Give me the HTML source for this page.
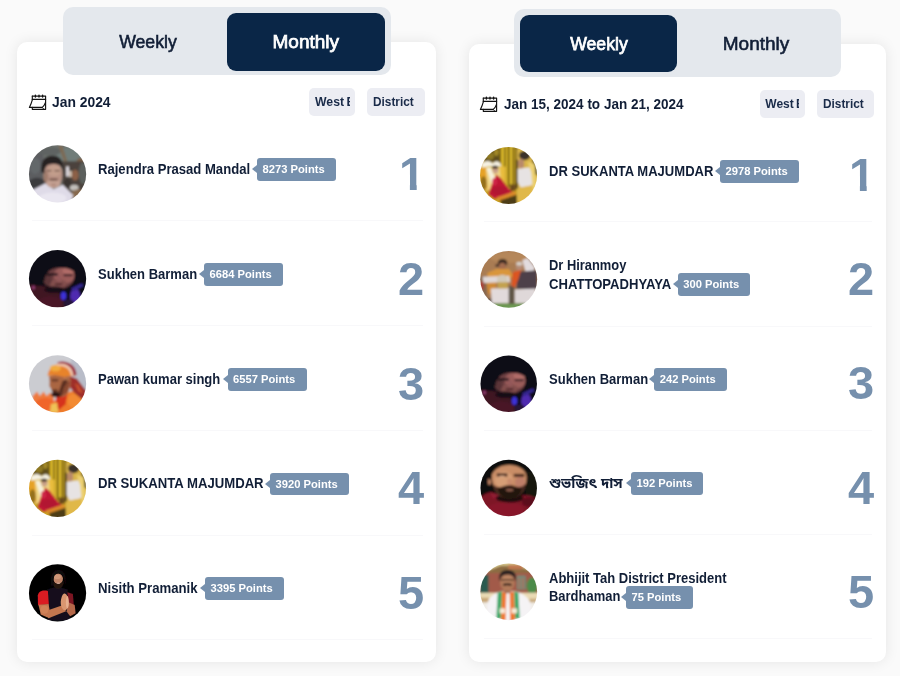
<!DOCTYPE html>
<html lang="en">
<head>
<meta charset="utf-8">
<title>Leaderboard</title>
<style>
*{box-sizing:border-box;margin:0;padding:0}
html,body{width:900px;height:676px;overflow:hidden}
body{background:#fafafa;font-family:"Liberation Sans",sans-serif;color:#111e36;position:relative}
.card{position:absolute;background:#fff;border-radius:10px;box-shadow:0 0 14px rgba(0,0,0,.085)}
.tabs{position:absolute;background:#e4e8ed;border-radius:10px}
.tab{position:absolute;border-radius:9px;font-weight:normal;-webkit-text-stroke:0.6px;font-size:19px;text-align:center;color:#111e36;white-space:nowrap}
.tab span{display:inline-block}
.tab.on{background:#0a2647;color:#fff;-webkit-text-stroke:0.75px}
.hdr{position:absolute;font-weight:bold;font-size:14px;line-height:16px;white-space:nowrap;color:#111e36;transform-origin:0 50%}
.ico{position:absolute;width:24px;height:22px}
.chip{position:absolute;background:#ecedf3;border-radius:5px;font-weight:bold;font-size:12px;color:#1a2b49;overflow:hidden;white-space:nowrap}
.chip .cw{display:block;overflow:hidden;height:100%}
.chip .cw span{display:inline-block;transform-origin:0 50%}
.av{position:absolute;width:58px;height:58px;border-radius:50%;overflow:hidden;background:#888}
.avs{position:absolute;width:62px;height:62px}
.avs svg{display:block}
.nm{position:absolute;font-weight:bold;font-size:14px;line-height:19px;white-space:nowrap;color:#111e36;transform-origin:0 50%}
.bdg{position:absolute;height:22.5px;background:#7690ad;border-radius:3px;color:#fff;font-weight:bold;font-size:11.2px;line-height:22.5px;white-space:nowrap;padding-left:5.5px}
.bdg:before{content:"";position:absolute;left:-5px;top:7px;border:4px solid transparent;border-left:0;border-right:5px solid #7690ad}
.bdg span{display:inline-block;transform-origin:0 50%}
.rk{position:absolute;font-weight:bold;font-size:47px;line-height:47px;color:#7690ad;text-align:center;width:40px}
.rk.one{clip-path:polygon(0 0,24.7px 0,24.7px 100%,17.9px 100%,17.9px 25px,0 25px)}
.sep{position:absolute;height:1px;background:#f8f8fa}
</style>
</head>
<body>
<!-- left panel -->
<div class="card" style="left:17px;top:42px;width:419px;height:620px"></div>
<div class="tabs" style="left:62.5px;top:7px;width:328.5px;height:68.3px"></div>
<div class="tab" style="left:68px;top:12.7px;width:159px;height:58px;line-height:58.4px"><span style="transform:scaleX(0.93)">Weekly</span></div>
<div class="tab on" style="left:226.5px;top:12.7px;width:158.5px;height:58px;line-height:58.4px"><span style="transform:scaleX(1.0)">Monthly</span></div>
<svg class="ico" style="left:26px;top:91px" viewBox="0 0 24 22" fill="none" stroke="#121212" stroke-width="1.15" stroke-linejoin="round" stroke-linecap="round"><path d="M6.3 5.1H19.6V18.3H6.3V16.4"/><path d="M6.3 5.1V8.6"/><path d="M6.3 8.4H19.6"/><path d="M6.4 8.6C5.6 11.6 4.6 14 3.4 16.4H16.2C17.6 15.4 18.8 13.6 19.5 11.4"/><path d="M16.2 16.4L18 18.3" stroke-width="0.9"/><path d="M9.4 4.1V6.1M13 4.1V6.1M16.6 4.1V6.1" stroke-width="1.4"/></svg>
<div class="hdr" style="left:52px;top:93.5px;transform:scaleX(0.99)">Jan 2024</div>
<div class="chip" style="left:309px;top:88px;width:46px;height:28px;line-height:28px;padding-left:5.8px;word-spacing:-1px"><span class="cw" style="width:35.1px"><span style="transform:scaleX(1.02)">West Bengal</span></span></div>
<div class="chip" style="left:367px;top:88px;width:58px;height:28px;line-height:28px;padding-left:6.1px;word-spacing:-1px"><span class="cw" style="width:45px"><span style="transform:scaleX(0.985)">District</span></span></div>
<div class="avs" style="left:27px;top:143px"><svg viewBox="0 0 676 676" width="62" height="62"><defs><clipPath id="cl1"><circle cx="333" cy="337" r="312"/></clipPath><filter id="fl1" x="-20%" y="-20%" width="140%" height="140%"><feGaussianBlur stdDeviation="10"/></filter></defs><g clip-path="url(#cl1)"><g filter="url(#fl1)"><rect x="-100" y="-100" width="900" height="900" fill="#6d716d" /><rect x="-50" y="100" width="230" height="440" fill="#5b5d60" /><ellipse cx="110" cy="440" rx="95" ry="60" fill="#3a3a3e" /><ellipse cx="90" cy="250" rx="60" ry="90" fill="#64676a" /><ellipse cx="470" cy="130" rx="150" ry="80" fill="#707d79" /><ellipse cx="250" cy="90" rx="120" ry="50" fill="#5f6462" /><polygon points="340,25 385,30 440,200 405,205" fill="#7d6a54" /><ellipse cx="590" cy="220" rx="55" ry="60" fill="#7a6048" /><rect x="385" y="200" width="320" height="380" fill="#4b423c" /><ellipse cx="525" cy="350" rx="38" ry="60" fill="#8c6146" /><rect x="428" y="255" width="28" height="110" fill="#ebe7ee" /><rect x="462" y="305" width="24" height="65" fill="#e6d6c6" /><ellipse cx="610" cy="330" rx="45" ry="120" fill="#5c615d" /><ellipse cx="515" cy="488" rx="48" ry="32" fill="#c2bfbb" /><ellipse cx="560" cy="565" rx="80" ry="60" fill="#86694d" /><ellipse cx="440" cy="440" rx="40" ry="50" fill="#3b3431" /><polygon points="30,530 200,440 290,505 390,455 505,570 450,720 80,720" fill="#dfdbe8" /><ellipse cx="280" cy="600" rx="150" ry="60" fill="#e9e6f0" /><ellipse cx="283" cy="345" rx="103" ry="140" fill="#b99385" /><ellipse cx="300" cy="300" rx="70" ry="60" fill="#c39e8c" /><ellipse cx="290" cy="440" rx="75" ry="50" fill="#c4a092" /><ellipse cx="205" cy="370" rx="25" ry="60" fill="#a07c6c" /><path d="M158 320 C140 195 195 140 280 140 C355 140 405 190 392 300 C378 240 335 228 275 230 C225 232 195 250 190 330 Z" fill="#262221" /><ellipse cx="275" cy="190" rx="90" ry="40" fill="#262221" /><rect x="208" y="295" width="60" height="14" fill="#6f554b" /><rect x="300" y="295" width="60" height="14" fill="#6f554b" /><ellipse cx="290" cy="398" rx="52" ry="13" fill="#7a5a50" /><ellipse cx="290" cy="455" rx="30" ry="8" fill="#a47c70" /></g></g></svg></div>
<div class="nm" style="left:98px;top:159.5px;transform:scaleX(0.935);">Rajendra Prasad Mandal</div>
<div class="bdg" style="left:257px;top:158.0px;width:79px"><span style="transform:scaleX(1.0)">8273 Points</span></div>
<div class="rk one" style="left:392px;top:149.8px">1</div>
<div class="sep" style="left:32px;top:220.0px;width:391px"></div>
<div class="avs" style="left:27px;top:248px"><svg viewBox="0 0 676 676" width="62" height="62"><defs><clipPath id="cl2"><circle cx="333" cy="335" r="312"/></clipPath><filter id="fl2" x="-20%" y="-20%" width="140%" height="140%"><feGaussianBlur stdDeviation="10"/></filter></defs><g clip-path="url(#cl2)"><g filter="url(#fl2)"><rect x="-100" y="-100" width="900" height="900" fill="#0e0a13" /><polygon points="20,400 200,420 330,470 400,560 420,720 -20,720" fill="#3f1424" /><ellipse cx="250" cy="600" rx="140" ry="70" fill="#4a1828" /><ellipse cx="70" cy="432" rx="18" ry="22" fill="#8c3a6c" /><ellipse cx="345" cy="325" rx="168" ry="120" fill="#6e4042" /><ellipse cx="405" cy="300" rx="115" ry="88" fill="#9a5c5a" /><ellipse cx="450" cy="250" rx="65" ry="38" fill="#b06c68" /><ellipse cx="340" cy="385" rx="95" ry="45" fill="#84504e" /><ellipse cx="225" cy="340" rx="45" ry="70" fill="#5c3438" /><rect x="215" y="275" width="120" height="26" fill="#24151c" /><rect x="400" y="285" width="95" height="22" fill="#321b24" /><ellipse cx="350" cy="330" rx="22" ry="40" fill="#94585a" /><ellipse cx="345" cy="395" rx="45" ry="10" fill="#4a2228" /><path d="M150 330 C150 180 260 150 380 160 C500 170 560 230 560 320 C520 240 450 210 350 215 C260 220 200 260 190 360 Z" fill="#100b12" /><ellipse cx="300" cy="455" rx="115" ry="35" fill="#190e16" /><ellipse cx="398" cy="522" rx="30" ry="45" fill="#3c33d8" /><ellipse cx="525" cy="525" rx="55" ry="85" fill="#4f2bb0" /><polygon points="480,440 600,385 615,415 505,475" fill="#352890" /><ellipse cx="455" cy="600" rx="60" ry="40" fill="#261238" /></g></g></svg></div>
<div class="nm" style="left:98px;top:264.5px;transform:scaleX(0.93);">Sukhen Barman</div>
<div class="bdg" style="left:204px;top:263.0px;width:79px"><span style="transform:scaleX(1.0)">6684 Points</span></div>
<div class="rk" style="left:391px;top:254.8px">2</div>
<div class="sep" style="left:32px;top:325.0px;width:391px"></div>
<div class="avs" style="left:27px;top:353px"><svg viewBox="0 0 676 676" width="62" height="62"><defs><clipPath id="cl3"><circle cx="333" cy="336" r="312"/></clipPath><filter id="fl3" x="-20%" y="-20%" width="140%" height="140%"><feGaussianBlur stdDeviation="9"/></filter></defs><g clip-path="url(#cl3)"><g filter="url(#fl3)"><rect x="-100" y="-100" width="900" height="900" fill="#cbccd1" /><rect x="480" y="-100" width="300" height="600" fill="#b8bcc8" /><polygon points="60,470 110,420 140,470 180,420 215,470 250,430 290,480 300,700 60,700" fill="#ee7a3d" /><ellipse cx="200" cy="560" rx="110" ry="70" fill="#f0652a" /><polygon points="300,520 470,420 640,400 660,700 280,700" fill="#ef7c2b" /><ellipse cx="520" cy="520" rx="80" ry="80" fill="#f28a30" /><polygon points="465,250 545,280 650,420 620,520 520,440 465,370" fill="#9e2e29" /><polygon points="520,330 560,350 610,440 560,420" fill="#c8502e" /><polygon points="320,470 440,440 420,560 350,620 310,560" fill="#d6301f" /><polygon points="260,560 330,540 340,650 250,650" fill="#efc257" /><path d="M240 250 C300 230 420 230 470 260 C490 330 470 420 420 470 C380 490 320 480 290 460 C270 430 270 400 255 380 C235 360 250 330 245 300 Z" fill="#aa6643" /><ellipse cx="420" cy="340" rx="40" ry="75" fill="#ba7550" /><ellipse cx="300" cy="300" rx="40" ry="30" fill="#a4603f" /><ellipse cx="322" cy="452" rx="60" ry="30" fill="#2c1812" /><polygon points="390,300 440,290 430,400 370,470 340,440" fill="#5a2f20" /><polygon points="270,400 330,395 335,420 280,425" fill="#5a3022" /><polygon points="400,380 450,300 470,320 440,430 380,470" fill="#8a4a30" /><rect x="270" y="290" width="70" height="16" fill="#4a2a1e" /><path d="M225 250 C230 170 300 110 400 110 C480 115 530 170 530 250 C470 245 430 260 400 262 C340 240 270 235 225 250 Z" fill="#e8832b" /><ellipse cx="310" cy="165" rx="60" ry="35" fill="#f2ab3e" /><path d="M330 100 C430 70 540 130 540 240 L500 245 C500 160 420 110 340 125 Z" fill="#9d2b3e" /><path d="M320 120 C420 100 500 150 505 245 L480 248 C470 170 410 130 325 140 Z" fill="#f0c8b0" /></g></g></svg></div>
<div class="nm" style="left:98px;top:369.5px;transform:scaleX(0.93);">Pawan kumar singh</div>
<div class="bdg" style="left:227.5px;top:368.0px;width:79.5px"><span style="transform:scaleX(1.0)">6557 Points</span></div>
<div class="rk" style="left:391px;top:359.8px">3</div>
<div class="sep" style="left:32px;top:430.0px;width:391px"></div>
<div class="avs" style="left:27px;top:458px"><svg viewBox="0 0 676 676" width="62" height="62"><defs><clipPath id="cl4"><circle cx="333" cy="331" r="311"/></clipPath><filter id="fl4" x="-20%" y="-20%" width="140%" height="140%"><feGaussianBlur stdDeviation="9"/></filter></defs><g clip-path="url(#cl4)"><g filter="url(#fl4)"><rect x="-100" y="-100" width="900" height="900" fill="#c9a324" /><rect x="225" y="-20" width="200" height="480" fill="#b8941c" /><rect x="232" y="-20" width="14" height="480" fill="#5e5010" /><rect x="258" y="-20" width="22" height="480" fill="#e6c432" /><rect x="286" y="-20" width="12" height="480" fill="#5a4c10" /><rect x="304" y="-20" width="18" height="480" fill="#d8b62a" /><rect x="328" y="-20" width="14" height="480" fill="#4e420e" /><rect x="348" y="-20" width="24" height="480" fill="#e2c030" /><rect x="378" y="-20" width="12" height="480" fill="#5a4c12" /><rect x="396" y="-20" width="14" height="480" fill="#c8a624" /><rect x="412" y="-20" width="18" height="480" fill="#4a3c10" /><polygon points="60,70 225,20 235,185 70,195" fill="#5e4e1a" /><ellipse cx="130" cy="120" rx="45" ry="40" fill="#8e7822" /><ellipse cx="200" cy="80" rx="25" ry="40" fill="#a48a26" /><path d="M40 205 C90 160 130 170 160 205 C190 160 230 170 250 215 L250 240 C200 222 120 228 40 252 Z" fill="#f6f2e4" /><polygon points="20,250 250,235 250,470 60,500" fill="#f0d684" /><polygon points="15,250 85,245 105,480 30,490" fill="#e6a226" /><polygon points="92,250 135,245 205,400 150,425" fill="#f6f0dc" /><ellipse cx="60" cy="420" rx="35" ry="80" fill="#94701a" /><polygon points="235,235 300,235 300,430 255,430" fill="#e9bd3e" /><ellipse cx="190" cy="272" rx="33" ry="40" fill="#c9a088" /><ellipse cx="186" cy="242" rx="36" ry="18" fill="#4a3a28" /><polygon points="200,322 250,362 330,470 385,520 300,568 180,590 112,540 150,430" fill="#c01936" /><ellipse cx="235" cy="500" rx="90" ry="50" fill="#b21431" /><ellipse cx="180" cy="400" rx="25" ry="40" fill="#d02848" /><polygon points="200,572 400,505 418,540 240,612" fill="#dc8a2c" /><polygon points="240,602 420,542 430,670 260,670" fill="#4e3e16" /><rect x="350" y="430" width="60" height="70" fill="#6a4a1a" /><rect x="425" y="40" width="240" height="620" fill="#d9b54a" /><rect x="410" y="160" width="25" height="320" fill="#54441a" /><polygon points="592,150 660,150 660,330 612,320" fill="#4a401e" /><ellipse cx="508" cy="115" rx="62" ry="50" fill="#3a3029" /><ellipse cx="470" cy="205" rx="34" ry="58" fill="#b98a6a" /><polygon points="432,262 560,242 598,300 588,440 470,470 432,400" fill="#e7e3e3" /><polygon points="540,185 618,205 640,480 600,520 580,300" fill="#ecd070" /><polygon points="430,470 590,440 620,620 430,640" fill="#e0b848" /></g></g></svg></div>
<div class="nm" style="left:98px;top:474.0px;transform:scaleX(0.938);">DR SUKANTA MAJUMDAR</div>
<div class="bdg" style="left:270px;top:472.5px;width:79px"><span style="transform:scaleX(1.0)">3920 Points</span></div>
<div class="rk" style="left:391px;top:464.3px">4</div>
<div class="sep" style="left:32px;top:534.5px;width:391px"></div>
<div class="avs" style="left:27px;top:562px"><svg viewBox="0 0 676 676" width="62" height="62"><defs><clipPath id="cl5"><circle cx="333" cy="337" r="312"/></clipPath><filter id="fl5" x="-20%" y="-20%" width="140%" height="140%"><feGaussianBlur stdDeviation="8"/></filter></defs><g clip-path="url(#cl5)"><g filter="url(#fl5)"><rect x="-100" y="-100" width="900" height="900" fill="#050406" /><polygon points="220,300 330,270 440,300 470,640 230,640" fill="#14111c" /><path d="M118 365 C122 322 170 300 228 315 L238 462 L120 472 Z" fill="#da1a22" /><polygon points="440,330 500,350 510,470 450,450" fill="#7b1522" /><polygon points="125,465 236,458 248,540 225,605 150,572" fill="#c6764f" /><polygon points="175,545 395,470 425,538 235,612" fill="#c47650" /><ellipse cx="190" cy="520" rx="42" ry="45" fill="#d08258" /><polygon points="452,440 520,470 530,560 470,592 432,540" fill="#b5674a" /><path d="M400 345 C430 335 450 380 452 440 C455 490 440 522 415 527 C385 522 365 480 368 430 C372 390 385 355 400 345 Z" fill="#d9966f" /><ellipse cx="440" cy="440" rx="16" ry="68" fill="#e7b090" /><ellipse cx="340" cy="182" rx="52" ry="58" fill="#bf8468" /><ellipse cx="330" cy="160" rx="40" ry="25" fill="#cf977a" /><path d="M285 215 C300 240 380 240 400 210 C400 262 370 292 340 292 C305 292 285 262 285 215 Z" fill="#27160f" /><ellipse cx="342" cy="232" rx="22" ry="8" fill="#c9a090" /><path d="M262 260 C240 120 300 80 350 85 C415 90 440 160 415 265 C410 165 380 125 340 125 C300 125 285 160 285 260 Z" fill="#0a0708" /></g></g></svg></div>
<div class="nm" style="left:98px;top:578.5px;transform:scaleX(0.941);">Nisith Pramanik</div>
<div class="bdg" style="left:205px;top:577.0px;width:79.4px"><span style="transform:scaleX(1.0)">3395 Points</span></div>
<div class="rk" style="left:391px;top:568.8px">5</div>
<div class="sep" style="left:32px;top:639.0px;width:391px"></div>
<!-- right panel -->
<div class="card" style="left:469px;top:44px;width:417px;height:618px"></div>
<div class="tabs" style="left:514px;top:9px;width:327px;height:68px"></div>
<div class="tab on" style="left:520px;top:15px;width:157px;height:57px;line-height:57.4px"><span style="transform:scaleX(0.93)">Weekly</span></div>
<div class="tab" style="left:677px;top:15px;width:158px;height:57px;line-height:57.4px"><span style="transform:scaleX(1.0)">Monthly</span></div>
<svg class="ico" style="left:477px;top:92.6px" viewBox="0 0 24 22" fill="none" stroke="#121212" stroke-width="1.15" stroke-linejoin="round" stroke-linecap="round"><path d="M6.3 5.1H19.6V18.3H6.3V16.4"/><path d="M6.3 5.1V8.6"/><path d="M6.3 8.4H19.6"/><path d="M6.4 8.6C5.6 11.6 4.6 14 3.4 16.4H16.2C17.6 15.4 18.8 13.6 19.5 11.4"/><path d="M16.2 16.4L18 18.3" stroke-width="0.9"/><path d="M9.4 4.1V6.1M13 4.1V6.1M16.6 4.1V6.1" stroke-width="1.4"/></svg>
<div class="hdr" style="left:504px;top:95.5px;transform:scaleX(0.965)">Jan 15, 2024 to Jan 21, 2024</div>
<div class="chip" style="left:759.5px;top:90px;width:45px;height:27.5px;line-height:29.5px;padding-left:5.8px;word-spacing:-1px"><span class="cw" style="width:33.9px"><span style="transform:scaleX(1.0)">West Bengal</span></span></div>
<div class="chip" style="left:817px;top:90px;width:57px;height:27.5px;line-height:29.5px;padding-left:5.6px;word-spacing:-1px"><span class="cw" style="width:45px"><span style="transform:scaleX(0.985)">District</span></span></div>
<div class="avs" style="left:478px;top:145px"><svg viewBox="0 0 676 676" width="62" height="62"><defs><clipPath id="cr1"><circle cx="333" cy="332" r="311"/></clipPath><filter id="fr1" x="-20%" y="-20%" width="140%" height="140%"><feGaussianBlur stdDeviation="9"/></filter></defs><g clip-path="url(#cr1)"><g filter="url(#fr1)"><rect x="-100" y="-100" width="900" height="900" fill="#c9a324" /><rect x="225" y="-20" width="200" height="480" fill="#b8941c" /><rect x="232" y="-20" width="14" height="480" fill="#5e5010" /><rect x="258" y="-20" width="22" height="480" fill="#e6c432" /><rect x="286" y="-20" width="12" height="480" fill="#5a4c10" /><rect x="304" y="-20" width="18" height="480" fill="#d8b62a" /><rect x="328" y="-20" width="14" height="480" fill="#4e420e" /><rect x="348" y="-20" width="24" height="480" fill="#e2c030" /><rect x="378" y="-20" width="12" height="480" fill="#5a4c12" /><rect x="396" y="-20" width="14" height="480" fill="#c8a624" /><rect x="412" y="-20" width="18" height="480" fill="#4a3c10" /><polygon points="60,70 225,20 235,185 70,195" fill="#5e4e1a" /><ellipse cx="130" cy="120" rx="45" ry="40" fill="#8e7822" /><ellipse cx="200" cy="80" rx="25" ry="40" fill="#a48a26" /><path d="M40 205 C90 160 130 170 160 205 C190 160 230 170 250 215 L250 240 C200 222 120 228 40 252 Z" fill="#f6f2e4" /><polygon points="20,250 250,235 250,470 60,500" fill="#f0d684" /><polygon points="15,250 85,245 105,480 30,490" fill="#e6a226" /><polygon points="92,250 135,245 205,400 150,425" fill="#f6f0dc" /><ellipse cx="60" cy="420" rx="35" ry="80" fill="#94701a" /><polygon points="235,235 300,235 300,430 255,430" fill="#e9bd3e" /><ellipse cx="190" cy="272" rx="33" ry="40" fill="#c9a088" /><ellipse cx="186" cy="242" rx="36" ry="18" fill="#4a3a28" /><polygon points="200,322 250,362 330,470 385,520 300,568 180,590 112,540 150,430" fill="#c01936" /><ellipse cx="235" cy="500" rx="90" ry="50" fill="#b21431" /><ellipse cx="180" cy="400" rx="25" ry="40" fill="#d02848" /><polygon points="200,572 400,505 418,540 240,612" fill="#dc8a2c" /><polygon points="240,602 420,542 430,670 260,670" fill="#4e3e16" /><rect x="350" y="430" width="60" height="70" fill="#6a4a1a" /><rect x="425" y="40" width="240" height="620" fill="#d9b54a" /><rect x="410" y="160" width="25" height="320" fill="#54441a" /><polygon points="592,150 660,150 660,330 612,320" fill="#4a401e" /><ellipse cx="508" cy="115" rx="62" ry="50" fill="#3a3029" /><ellipse cx="470" cy="205" rx="34" ry="58" fill="#b98a6a" /><polygon points="432,262 560,242 598,300 588,440 470,470 432,400" fill="#e7e3e3" /><polygon points="540,185 618,205 640,480 600,520 580,300" fill="#ecd070" /><polygon points="430,470 590,440 620,620 430,640" fill="#e0b848" /></g></g></svg></div>
<div class="nm" style="left:549px;top:161.5px;transform:scaleX(0.931);">DR SUKANTA MAJUMDAR</div>
<div class="bdg" style="left:720px;top:160px;width:79px"><span style="transform:scaleX(1.0)">2978 Points</span></div>
<div class="rk one" style="left:842px;top:151.3px">1</div>
<div class="sep" style="left:484px;top:221.0px;width:388px"></div>
<div class="avs" style="left:478px;top:249px"><svg viewBox="0 0 676 676" width="62" height="62"><defs><clipPath id="cr2"><circle cx="335" cy="331" r="310"/></clipPath><filter id="fr2" x="-20%" y="-20%" width="140%" height="140%"><feGaussianBlur stdDeviation="11"/></filter></defs><g clip-path="url(#cr2)"><g filter="url(#fr2)"><rect x="-100" y="-100" width="900" height="900" fill="#a97b52" /><rect x="-100" y="300" width="200" height="400" fill="#86684f" /><rect x="560" y="-100" width="200" height="400" fill="#967356" /><ellipse cx="330" cy="90" rx="200" ry="60" fill="#b5875a" /><rect x="-50" y="592" width="800" height="120" fill="#6d9853" /><rect x="60" y="540" width="120" height="60" fill="#5a4a42" /><ellipse cx="268" cy="150" rx="52" ry="42" fill="#3a2a21" /><ellipse cx="265" cy="195" rx="38" ry="45" fill="#a46d50" /><polygon points="100,262 200,217 340,217 380,290 350,330 110,330" fill="#d9963a" /><polygon points="85,330 200,320 190,480 110,490" fill="#cf8a34" /><polygon points="50,302 340,292 350,360 60,370" fill="#e0d8d8" /><polygon points="140,432 340,422 340,590 150,590" fill="#e2dadb" /><ellipse cx="265" cy="330" rx="60" ry="48" fill="#d2c9b8" /><polygon points="210,362 330,362 320,430 220,430" fill="#c3a250" /><ellipse cx="40" cy="400" rx="28" ry="48" fill="#a8453a" /><ellipse cx="210" cy="180" rx="22" ry="14" fill="#3a2a24" /><polygon points="335,400 400,400 400,600 335,600" fill="#5f5546" /><ellipse cx="450" cy="192" rx="36" ry="45" fill="#b48c76" /><ellipse cx="450" cy="160" rx="34" ry="20" fill="#d6cec6" /><polygon points="482,122 540,97 620,200 600,270 520,250" fill="#e2dcde" /><polygon points="425,252 640,232 650,440 420,440" fill="#4d404a" /><polygon points="380,252 470,227 440,330 400,420 365,400" fill="#db5424" /><polygon points="400,442 630,432 620,590 400,590" fill="#dfd8d9" /></g></g></svg></div>
<div class="nm" style="left:549px;top:256px;transform:scaleX(0.921);">Dr Hiranmoy</div>
<div class="nm" style="left:549px;top:275px;transform:scaleX(0.935);">CHATTOPADHYAYA</div>
<div class="bdg" style="left:677.7px;top:273.2px;width:72.6px"><span style="transform:scaleX(1.0)">300 Points</span></div>
<div class="rk" style="left:841px;top:255.3px">2</div>
<div class="sep" style="left:484px;top:325.5px;width:388px"></div>
<div class="avs" style="left:478px;top:353px"><svg viewBox="0 0 676 676" width="62" height="62"><defs><clipPath id="cr3"><circle cx="335" cy="336" r="308"/></clipPath><filter id="fr3" x="-20%" y="-20%" width="140%" height="140%"><feGaussianBlur stdDeviation="10"/></filter></defs><g clip-path="url(#cr3)"><g filter="url(#fr3)"><rect x="-100" y="-100" width="900" height="900" fill="#0e0a13" /><polygon points="20,400 200,420 330,470 400,560 420,720 -20,720" fill="#3f1424" /><ellipse cx="250" cy="600" rx="140" ry="70" fill="#4a1828" /><ellipse cx="70" cy="432" rx="18" ry="22" fill="#8c3a6c" /><ellipse cx="345" cy="325" rx="168" ry="120" fill="#6e4042" /><ellipse cx="405" cy="300" rx="115" ry="88" fill="#9a5c5a" /><ellipse cx="450" cy="250" rx="65" ry="38" fill="#b06c68" /><ellipse cx="340" cy="385" rx="95" ry="45" fill="#84504e" /><ellipse cx="225" cy="340" rx="45" ry="70" fill="#5c3438" /><rect x="215" y="275" width="120" height="26" fill="#24151c" /><rect x="400" y="285" width="95" height="22" fill="#321b24" /><ellipse cx="350" cy="330" rx="22" ry="40" fill="#94585a" /><ellipse cx="345" cy="395" rx="45" ry="10" fill="#4a2228" /><path d="M150 330 C150 180 260 150 380 160 C500 170 560 230 560 320 C520 240 450 210 350 215 C260 220 200 260 190 360 Z" fill="#100b12" /><ellipse cx="300" cy="455" rx="115" ry="35" fill="#190e16" /><ellipse cx="398" cy="522" rx="30" ry="45" fill="#3c33d8" /><ellipse cx="525" cy="525" rx="55" ry="85" fill="#4f2bb0" /><polygon points="480,440 600,385 615,415 505,475" fill="#352890" /><ellipse cx="455" cy="600" rx="60" ry="40" fill="#261238" /></g></g></svg></div>
<div class="nm" style="left:549px;top:369.5px;transform:scaleX(0.93);">Sukhen Barman</div>
<div class="bdg" style="left:654.2px;top:368.4px;width:72.8px"><span style="transform:scaleX(1.0)">242 Points</span></div>
<div class="rk" style="left:841px;top:359.3px">3</div>
<div class="sep" style="left:484px;top:430.0px;width:388px"></div>
<div class="avs" style="left:478px;top:458px"><svg viewBox="0 0 676 676" width="62" height="62"><defs><clipPath id="cr4"><circle cx="335" cy="328" r="308"/></clipPath><filter id="fr4" x="-20%" y="-20%" width="140%" height="140%"><feGaussianBlur stdDeviation="9"/></filter></defs><g clip-path="url(#cr4)"><g filter="url(#fr4)"><rect x="-100" y="-100" width="900" height="900" fill="#0d0a0a" /><rect x="520" y="150" width="200" height="300" fill="#17130f" /><path d="M30 430 C90 370 140 360 200 395 L350 470 L480 410 C560 400 620 420 660 470 L660 720 L0 720 Z" fill="#7e1227" /><ellipse cx="300" cy="560" rx="200" ry="80" fill="#88162b" /><ellipse cx="560" cy="480" rx="80" ry="50" fill="#5c0d1c" /><polygon points="130,370 210,395 330,470 300,500 150,430" fill="#8f1a30" /><ellipse cx="345" cy="440" rx="150" ry="45" fill="#1c100c" /><path d="M150 200 C150 90 240 50 340 50 C450 50 530 100 530 210 C530 330 470 420 340 425 C210 420 150 320 150 200 Z" fill="#c98d66" /><ellipse cx="280" cy="235" rx="100" ry="90" fill="#d69e76" /><ellipse cx="460" cy="270" rx="55" ry="70" fill="#be7e68" /><ellipse cx="125" cy="258" rx="18" ry="36" fill="#b87e60" /><path d="M165 285 C200 330 250 320 300 300 C330 290 370 290 400 305 C440 325 490 320 520 275 C520 370 450 440 345 440 C240 440 170 380 165 285 Z" fill="#4a2c20" /><path d="M215 330 C260 340 300 312 345 312 C390 312 430 340 480 330 C470 400 420 440 345 440 C270 440 225 400 215 330 Z" fill="#24140f" /><ellipse cx="345" cy="350" rx="42" ry="14" fill="#8a5a48" /><rect x="205" y="168" width="115" height="34" fill="#4a2a1e" /><rect x="390" y="173" width="115" height="34" fill="#4a2a1e" /><ellipse cx="262" cy="200" rx="35" ry="10" fill="#d8a888" /><ellipse cx="345" cy="260" rx="28" ry="36" fill="#c98b6c" /><path d="M130 250 C100 90 220 10 340 15 C470 15 570 90 545 250 C540 150 470 75 340 75 C220 75 145 140 130 250 Z" fill="#0b0808" /></g></g></svg></div>
<div class="nm" style="left:549px;top:474px;transform:scaleX(1.0);font-family:'Liberation Sans','Noto Sans Bengali','Noto Sans Bengali UI','Lohit Bengali','FreeSans',sans-serif;font-size:14.5px">শুভজিৎ দাস</div>
<div class="bdg" style="left:631px;top:472.2px;width:72.3px"><span style="transform:scaleX(1.0)">192 Points</span></div>
<div class="rk" style="left:841px;top:463.90000000000003px">4</div>
<div class="sep" style="left:484px;top:534.0px;width:388px"></div>
<div class="avs" style="left:478px;top:562px"><svg viewBox="0 0 676 676" width="62" height="62"><defs><clipPath id="cr5"><circle cx="335" cy="325" r="310"/></clipPath><filter id="fr5" x="-20%" y="-20%" width="140%" height="140%"><feGaussianBlur stdDeviation="10"/></filter></defs><g clip-path="url(#cr5)"><g filter="url(#fr5)"><rect x="-100" y="-100" width="900" height="900" fill="#a25a4a" /><rect x="-50" y="-50" width="800" height="150" fill="#d6c68c" /><polygon points="120,90 250,40 420,40 560,90 560,120 120,120" fill="#8c6c42" /><rect x="330" y="30" width="160" height="50" fill="#c07850" /><rect x="20" y="140" width="95" height="200" fill="#2b5a50" /><ellipse cx="590" cy="260" rx="60" ry="90" fill="#4b8b49" /><rect x="425" y="150" width="95" height="150" fill="#6a8f7c" /><rect x="440" y="170" width="20" height="120" fill="#b06a58" /><rect x="480" y="170" width="20" height="120" fill="#b06a58" /><rect x="-50" y="335" width="800" height="100" fill="#e9dab4" /><rect x="-50" y="390" width="170" height="60" fill="#c9a878" /><rect x="560" y="400" width="170" height="90" fill="#c9ac80" /><rect x="-50" y="440" width="800" height="300" fill="#f0ece6" /><path d="M100 470 C110 380 180 340 260 320 L400 320 C480 340 560 380 575 470 L600 720 L80 720 Z" fill="#f5f3f5" /><polygon points="215,335 265,320 250,620 200,620" fill="#39a868" /><polygon points="262,322 310,330 300,640 250,640" fill="#f0782f" /><polygon points="345,330 395,322 405,640 350,640" fill="#f0782f" /><polygon points="395,322 440,335 455,620 405,620" fill="#39a868" /><rect x="235" y="505" width="60" height="55" fill="#f6ead8" /><rect x="365" y="505" width="60" height="55" fill="#f6ead8" /><rect x="285" y="280" width="70" height="60" fill="#a06a50" /><ellipse cx="320" cy="220" rx="80" ry="98" fill="#b27a5a" /><ellipse cx="320" cy="190" rx="60" ry="40" fill="#bf8866" /><path d="M275 240 C300 225 340 225 365 240 L365 262 C340 250 300 250 275 262 Z" fill="#2a1a16" /><rect x="250" y="185" width="140" height="18" fill="#5a3a2c" /><path d="M232 215 C215 120 270 85 325 88 C385 88 430 125 410 215 C400 160 370 135 320 135 C270 135 245 165 232 215 Z" fill="#2a2220" /></g></g></svg></div>
<div class="nm" style="left:549px;top:568.5px;transform:scaleX(0.929);">Abhijit Tah District President</div>
<div class="nm" style="left:549px;top:587px;transform:scaleX(0.926);">Bardhaman</div>
<div class="bdg" style="left:626px;top:586.4px;width:66.8px"><span style="transform:scaleX(1.0)">75 Points</span></div>
<div class="rk" style="left:841px;top:567.5999999999999px">5</div>
<div class="sep" style="left:484px;top:638.0px;width:388px"></div>
</body>
</html>
